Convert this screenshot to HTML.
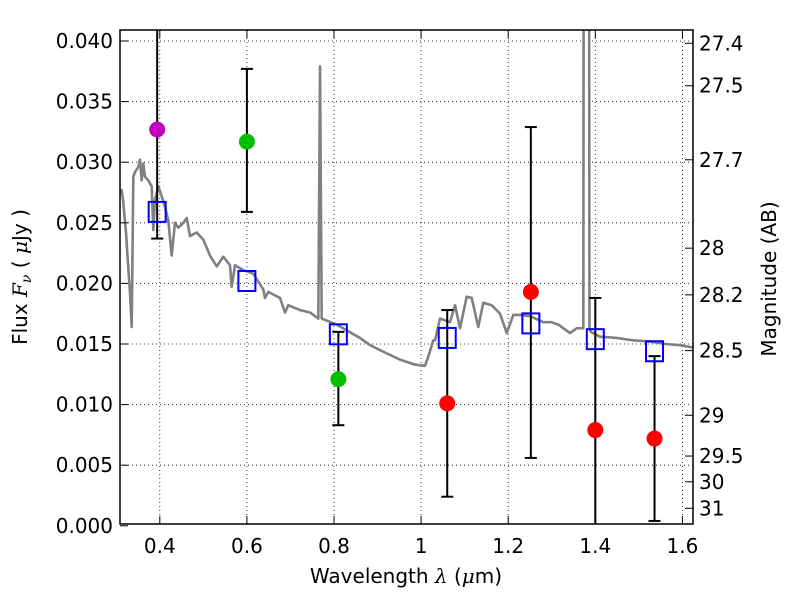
<!DOCTYPE html>
<html><head><meta charset="utf-8"><style>
html,body{margin:0;padding:0;background:#fff;}
svg{display:block;font-family:"DejaVu Sans","Liberation Sans",sans-serif;}
</style></head><body>
<svg id="chart" width="800" height="600" viewBox="0 0 800 600">
<g id="grid"></g>
<g id="clipwrap" clip-path="url(#pc)"></g>
<defs><clipPath id="pc"><rect x="120" y="30" width="573" height="494"/></clipPath></defs>
<rect x="120" y="30" width="573" height="494" fill="none" stroke="#000" stroke-width="1.5"/>
<g id="axes"></g>
<text x="406" y="583" font-size="20" text-anchor="middle">Wavelength  <tspan font-family="DejaVu Serif,serif" font-style="italic">λ</tspan> (<tspan font-family="DejaVu Serif,serif" font-style="italic">μ</tspan>m)</text>
<text transform="translate(27,277) rotate(-90)" font-size="20" text-anchor="middle">Flux  <tspan font-family="DejaVu Serif,serif" font-style="italic">F<tspan font-size="14" dy="4">ν</tspan></tspan><tspan dy="-4">  ( </tspan><tspan font-family="DejaVu Serif,serif" font-style="italic">μ</tspan>Jy )</text>
<text transform="translate(776,279) rotate(-90)" font-size="20" text-anchor="middle">Magnitude (AB)</text>
</svg>
<script>
const xTicks=[0.4,0.6,0.8,1.0,1.2,1.4,1.6];
const xTickLabels=["0.4","0.6","0.8","1","1.2","1.4","1.6"];
const yTicks=[0,0.005,0.01,0.015,0.02,0.025,0.03,0.035,0.04];
const yTickLabels=["0.000","0.005","0.010","0.015","0.020","0.025","0.030","0.035","0.040"];
const magTicks=[27.4,27.5,27.7,28,28.2,28.5,29,29.5,30,31];
const specWave=[0.300,0.3125,0.3162,0.3224,0.3254,0.3316,0.3355,0.3392,0.3431,0.3507,0.3545,0.3584,0.3621,0.366,0.3736,0.3814,0.3851,0.389,0.3966,0.4044,0.4119,0.4195,0.4273,0.4349,0.4425,0.454,0.4618,0.4693,0.4847,0.5,0.5153,0.5307,0.5458,0.5612,0.5651,0.5727,0.5917,0.6147,0.6377,0.6416,0.6491,0.676,0.6875,0.6951,0.7219,0.7449,0.764,0.7679,0.7718,0.8062,0.8597,0.883,0.917,0.952,0.986,1.009,1.016,1.028,1.032,1.0434,1.0664,1.0779,1.0893,1.1047,1.1162,1.1313,1.1428,1.1621,1.1812,1.1966,1.2117,1.2271,1.25,1.2806,1.2999,1.315,1.3419,1.3573,1.3725,1.3795,1.3866,1.3900,1.4108,1.4491,1.4873,1.526,1.561,1.595,1.625];
const specFlux=[0.0270,0.0277,0.0267,0.0242,0.0225,0.0192,0.0164,0.0288,0.0292,0.0296,0.0302,0.0285,0.0299,0.0288,0.0285,0.0280,0.0244,0.0269,0.0280,0.0272,0.0263,0.0252,0.0223,0.0250,0.0246,0.0250,0.0254,0.0239,0.0242,0.0236,0.0223,0.0214,0.0222,0.0215,0.0197,0.0215,0.0211,0.0208,0.0195,0.0188,0.0193,0.0188,0.0176,0.0182,0.0178,0.0176,0.0171,0.0379,0.0171,0.0166,0.0155,0.0149,0.0143,0.0137,0.0133,0.0132,0.0139,0.0153,0.0153,0.0171,0.0168,0.0182,0.0163,0.0189,0.0188,0.0164,0.0184,0.0182,0.0175,0.0159,0.0174,0.0174,0.0173,0.0168,0.0168,0.0166,0.0159,0.0163,0.0163,0.3000,0.0163,0.0160,0.0156,0.0155,0.0153,0.0152,0.0150,0.0149,0.0147];
const photWave=[0.394,0.600,0.810,1.060,1.252,1.400,1.536];
const photFlux=[0.0327,0.0317,0.0121,0.0101,0.0193,0.0079,0.0072];
const photLow=[0.0237,0.0259,0.0083,0.0024,0.0056,-0.003,0.0004];
const photHigh=[0.050,0.0377,0.0160,0.0178,0.0329,0.0188,0.0140];
const photColors=["#bf00bf","#00c000","#00c000","#ff0000","#ff0000","#ff0000","#ff0000"];
const modelFlux=[0.0259,0.0202,0.0158,0.0155,0.0167,0.0154,0.0144];

const NS="http://www.w3.org/2000/svg";
const X=v=>159.8+(v-0.4)*435.5;
const Y=v=>525.8-v*12120;
function mk(tag,attrs,parent){const e=document.createElementNS(NS,tag);for(const k in attrs)e.setAttribute(k,attrs[k]);parent.appendChild(e);return e;}
const grid=document.getElementById('grid'),axes=document.getElementById('axes'),pa=document.getElementById('clipwrap');
xTicks.forEach((t,i)=>{
 const x=X(t);
 const g=mk('line',{x1:x,x2:x,y1:30,y2:524,stroke:'#000','stroke-width':0.8,'stroke-dasharray':'1,3'},grid);
 
 mk('line',{x1:x,x2:x,y1:524,y2:516,stroke:'#000'},axes);
 mk('line',{x1:x,x2:x,y1:30,y2:38,stroke:'#000'},axes);
 const tx=mk('text',{x:x,y:553,'font-size':20,'text-anchor':'middle'},axes);tx.textContent=xTickLabels[i];
 
});
yTicks.forEach((t,i)=>{
 const y=Y(t);
 if(t>0){const g=mk('line',{x1:120,x2:693,y1:y,y2:y,stroke:'#000','stroke-width':0.8,'stroke-dasharray':'1,3'},grid);
 }
 mk('line',{x1:120,x2:128,y1:y,y2:y,stroke:'#000'},axes);
 const tx=mk('text',{x:113,y:y+7,'font-size':20,'text-anchor':'end'},axes);tx.textContent=yTickLabels[i];
 
});
magTicks.forEach(m=>{
 const f=Math.pow(10,(23.9-m)/2.5),y=Y(f);
 mk('line',{x1:685,x2:693,y1:y,y2:y,stroke:'#000'},axes);
 const tx=mk('text',{x:699,y:y+7,'font-size':20},axes);tx.textContent=String(m);
 
});
const sp=mk('polyline',{points:specWave.map((w,i)=>X(w)+','+Y(specFlux[i])).join(' '),fill:'none',stroke:'#808080','stroke-width':2.6,'stroke-linejoin':'round'},pa);

photWave.forEach((w,i)=>{
 const x=X(w);
 const e=mk('line',{x1:x,x2:x,y1:Y(photHigh[i]),y2:Y(photLow[i]),stroke:'#000','stroke-width':2},pa);
 
 [photHigh[i],photLow[i]].forEach(v=>mk('line',{x1:x-6,x2:x+6,y1:Y(v),y2:Y(v),stroke:'#000','stroke-width':2},pa));
 const s=mk('rect',{x:x-8.5,y:Y(modelFlux[i])-10,width:17,height:20,fill:'none',stroke:'#0000ff','stroke-width':2},pa);
 
 const c=mk('circle',{cx:x,cy:Y(photFlux[i]),r:8,fill:photColors[i]},pa);
 
});
</script>
</body></html>
